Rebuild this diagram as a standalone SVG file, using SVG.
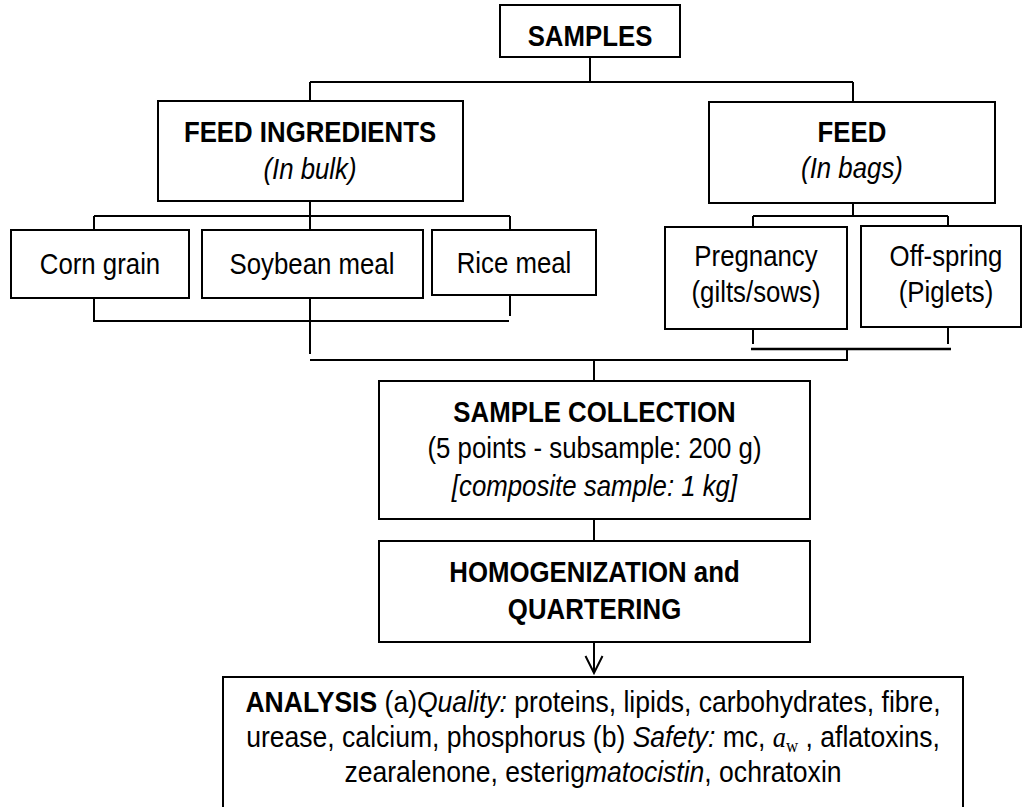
<svg xmlns="http://www.w3.org/2000/svg" width="1022" height="807" viewBox="0 0 1022 807">
<style>
.box{fill:#fff;stroke:#000;stroke-width:2}
.ln{stroke:#000;stroke-width:2;fill:none}
text{font-family:"Liberation Sans",Arial,sans-serif;font-size:30px;fill:#000;text-anchor:middle}
.b{font-weight:bold}
.i{font-style:italic}
</style>
<defs>
<marker id="open" viewBox="0 0 20 20" refX="18" refY="10" markerWidth="20" markerHeight="20" markerUnits="userSpaceOnUse" orient="auto">
<path d="M1,1.5 L18,10 L1,18.5" fill="none" stroke="#000" stroke-width="2"/>
</marker>
</defs>
<rect width="1022" height="807" fill="#fff"/>
<g id="connectors">
<path class="ln" d="M590,57 V82 M310,82 H853 M310,82 V101 M853,82 V102"/>
<path class="ln" d="M310,201 V230 M94,216 H510 M94,216 V230 M510,216 V230"/>
<path class="ln" d="M853,203 V216 M753,216 H948 M753,216 V227 M948,216 V226"/>
<path class="ln" d="M94,298 V321 H509 M510,295 V316 M310,298 V354"/>
<path class="ln" d="M753,329 V344 M948,327 V344"/>
<path class="ln" style="stroke-width:2.5" d="M751,349 H951"/>
<path class="ln" d="M847,349 V360 H310 M594,360 V381"/>
<path class="ln" d="M594,519 V541"/>
<path class="ln" d="M594,642 V673" marker-end="url(#open)"/>
</g>
<g id="samples">
<rect class="box" x="500" y="5" width="180" height="52"/>
<text class="b" transform="translate(590,46) scale(0.86,1)">SAMPLES</text>
</g>
<g id="feed-ingredients">
<rect class="box" x="158" y="101" width="305" height="100"/>
<text class="b" transform="translate(310,142) scale(0.86,1)">FEED INGREDIENTS</text>
<text class="i" transform="translate(310,179) scale(0.86,1)">(In bulk)</text>
</g>
<g id="feed">
<rect class="box" x="709" y="102" width="286" height="101"/>
<text class="b" transform="translate(852,142) scale(0.86,1)">FEED</text>
<text class="i" transform="translate(852,178) scale(0.86,1)">(In bags)</text>
</g>
<g id="corn-grain">
<rect class="box" x="11" y="230" width="178" height="68"/>
<text transform="translate(100,274) scale(0.86,1)">Corn grain</text>
</g>
<g id="soybean-meal">
<rect class="box" x="202" y="230" width="221" height="68"/>
<text transform="translate(312,274) scale(0.86,1)">Soybean meal</text>
</g>
<g id="rice-meal">
<rect class="box" x="432" y="230" width="164" height="65"/>
<text transform="translate(514,273) scale(0.86,1)">Rice meal</text>
</g>
<g id="pregnancy">
<rect class="box" x="665" y="227" width="182" height="102"/>
<text transform="translate(756,266) scale(0.86,1)">Pregnancy</text>
<text transform="translate(756,302) scale(0.86,1)">(gilts/sows)</text>
</g>
<g id="off-spring">
<rect class="box" x="861" y="226" width="160" height="101"/>
<text transform="translate(946,266) scale(0.86,1)">Off-spring</text>
<text transform="translate(946,302) scale(0.86,1)">(Piglets)</text>
</g>
<g id="sample-collection">
<rect class="box" x="379" y="381" width="431" height="138"/>
<text class="b" transform="translate(594.5,422) scale(0.86,1)">SAMPLE COLLECTION</text>
<text transform="translate(594.5,458) scale(0.86,1)">(5 points - subsample: 200 g)</text>
<text class="i" transform="translate(594.5,496) scale(0.86,1)">[composite sample: 1 kg]</text>
</g>
<g id="homogenization">
<rect class="box" x="379" y="541" width="431" height="101"/>
<text class="b" transform="translate(594.5,582) scale(0.86,1)">HOMOGENIZATION and</text>
<text class="b" transform="translate(594.5,619) scale(0.86,1)">QUARTERING</text>
</g>
<g id="analysis">
<rect class="box" x="223" y="677" width="740" height="150"/>
<text transform="translate(593,712) scale(0.885,1)"><tspan class="b">ANALYSIS</tspan> (a)<tspan class="i">Quality:</tspan> proteins, lipids, carbohydrates, fibre,</text>
<text transform="translate(593,747) scale(0.885,1)">urease, calcium, phosphorus (b) <tspan class="i">Safety:</tspan> mc, <tspan style="font-family:'Liberation Serif',serif;font-style:italic">a</tspan><tspan style="font-family:'Liberation Serif',serif;font-size:19px" dy="5">w</tspan><tspan dy="-5"> , aflatoxins,</tspan></text>
<text transform="translate(593,782) scale(0.885,1)">zearalenone, esterig<tspan class="i">matocistin</tspan>, ochratoxin</text>
</g>
</svg>
